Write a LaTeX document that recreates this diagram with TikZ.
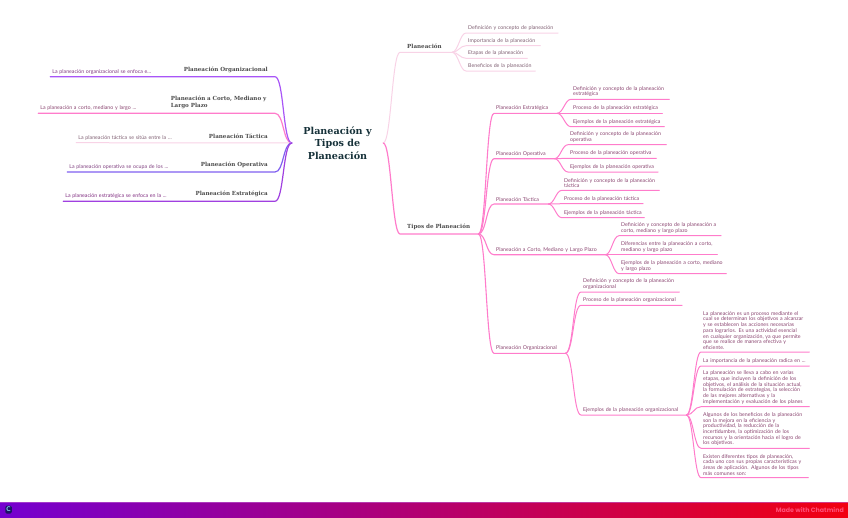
\documentclass[tikz,border=0pt]{standalone}
\usepackage{fontspec}
\setmainfont{Lato}
\newfontfamily\headfont{DejaVu Serif}
\newfontfamily\brandfont{Poppins}
\usepackage{tikz}
\usetikzlibrary{positioning,calc}

\definecolor{lineLight}{HTML}{F8D3E6}
\definecolor{linePink}{HTML}{FF7CCB}
\definecolor{linePurple}{HTML}{A855F7}
\definecolor{lineViolet}{HTML}{8060F0}
\definecolor{lineGrape}{HTML}{A040E0}
\definecolor{txtRose}{HTML}{8A4570}
\definecolor{txtDust}{HTML}{7F5F72}
\definecolor{barLeft}{HTML}{7400D0}
\definecolor{barMid}{HTML}{B80078}
\definecolor{barRight}{HTML}{F20010}
\definecolor{barTop}{HTML}{C060D0}
\definecolor{brandPink}{HTML}{FF4F78}
\definecolor{hubInk}{HTML}{17323A}
\definecolor{logoInk}{HTML}{1B1464}

\tikzset{
  hub/.style={font=\headfont\bfseries\fontsize{9.6}{12.4}\selectfont, text=hubInk, align=center, minimum width=91pt, inner sep=0pt},
  headR/.style={font=\headfont\bfseries\fontsize{5.6}{7.4}\selectfont, text=black!70, anchor=south west, text width=#1-14, align=left, inner xsep=7pt, inner ysep=4pt},
  headL/.style={font=\headfont\bfseries\fontsize{5.6}{7.4}\selectfont, text=black!70, anchor=south east, text width=#1-14, align=right, inner xsep=7pt, inner ysep=4pt},
  leaf/.style={font=\fontsize{5.25}{5.7}\selectfont, text=txtRose, anchor=south west, text width=#1-4, align=left, inner xsep=2pt, inner ysep=2.3pt},
  leafL/.style={font=\fontsize{5.25}{5.7}\selectfont, anchor=south east, text width=#1-4, align=left, inner xsep=2pt, inner ysep=2.3pt},
  wire/.style={line width=#1, line cap=round},
  wire/.default=1pt,
  linkR/.style={out=0, in=180, out distance=#1, in distance=#1},
  linkR/.default=6pt,
  linkL/.style={out=180, in=0, out distance=#1, in distance=#1},
  linkL/.default=6pt
}

\begin{document}
\begin{tikzpicture}[x=1pt, y=-1pt]
\useasboundingbox (0,0) rectangle (848,517);

% Footer bar
\shade [left color=barLeft, middle color=barMid, right color=barRight] (0,502) rectangle (848,517);
\fill [barTop, opacity=0.6] (0,501.6) rectangle (848,502.6);
\node (logo) at (8.5,509.5) [fill=logoInk, rounded corners=1.5pt, minimum width=6.5pt, minimum height=8pt, inner sep=0pt, text=cyan!45!white, font=\bfseries\fontsize{6.5}{7}\selectfont] {C};
\node (brand) at (844,509.5) [anchor=east, inner sep=0pt, text=brandPink, font=\brandfont\bfseries\fontsize{6.3}{7}\selectfont] {Made with Chatmind};

% Centre
\node (main) at (337.5,143) [hub] {Planeación y\\Tipos de\\Planeación};

% Left side
\node (hOrg) at (275,76.7) [headL=103] {Planeación Organizacional};
\node (lOrg) at (hOrg.south west) [leafL=121, text=violet!55!gray, anchor=south east] {La planeación organizacional se enfoca e...};
\node (hCor) at (275,113.3) [headL=111, align=left] {\mbox{Planeación a Corto, Mediano y}\\Largo Plazo};
\node (lCor) at (hCor.south west) [leafL=125, text=txtRose, anchor=south east] {La planeación a corto, mediano y largo ...};
\node (hTac) at (275,142.7) [headL=86] {Planeación Táctica};
\node (lTac) at (hTac.south west) [leafL=112, text=txtDust, anchor=south east] {La planeación táctica se sitúa entre la ...};
\node (hOpe) at (275,172) [headL=88] {Planeación Operativa};
\node (lOpe) at (hOpe.south west) [leafL=119, text=violet!50!gray, anchor=south east] {La planeación operativa se ocupa de los ...};
\node (hEst) at (275,201.3) [headL=92] {Planeación Estratégica};
\node (lEst) at (hEst.south west) [leafL=119, text=violet!65!gray, anchor=south east] {La planeación estratégica se enfoca en la ...};

\draw [wire=1.2pt, linePink] (main.west) to[linkL=9pt] (hCor.south east) -- (lCor.south west);
\draw [wire=1.2pt, linePurple] (main.west) to[linkL=9pt] (hOrg.south east) -- (lOrg.south west);
\draw [wire=1pt, lineLight] (main.west) -- (lTac.south west);
\draw [wire=1.2pt, lineViolet] (main.west) to[linkL=9pt] (hOpe.south east) -- (lOpe.south west);
\draw [wire=1.2pt, lineGrape] (main.west) to[linkL=9pt] (hEst.south east) -- (lEst.south west);

% Right side: Planeacion
\node (plan) at (400,52.3) [headR=51.7] {Planeación};
\node (plan1) at (466,33) [leaf=91.7, text=txtDust] {Definición y concepto de planeación};
\node (plan2) at (466,45.7) [leaf=74, text=txtDust] {Importancia de la planeación};
\node (plan3) at (466,58.3) [leaf=61, text=txtDust] {Etapas de la planeación};
\node (plan4) at (466,71) [leaf=69, text=txtDust] {Beneficios de la planeación};

\draw [wire=1pt, lineLight] (main.east) to[linkR=8pt] (plan.south west) -- (plan.south east);
\foreach \n in {plan1,plan2,plan3,plan4}
  \draw [wire, lineLight] (plan.south east) to[linkR] (\n.south west) -- (\n.south east);

% Right side: Tipos
\node (tipos) at (400,234) [headR=78] {\mbox{Tipos de Planeación}};
\node (sEst) at (494,113.3) [leaf=62.7] {Planeación Estratégica};
\node (sOpe) at (494,158.7) [leaf=60] {Planeación Operativa};
\node (sTac) at (494,204) [leaf=54] {Planeación Táctica};
\node (sCor) at (494,254.7) [leaf=111] {Planeación a Corto, Mediano y Largo Plazo};
\node (sOrg) at (494,353.3) [leaf=71] {Planeación Organizacional};

\draw [wire=1.2pt, linePink] (main.east) to[linkR=8pt] (tipos.south west) -- (tipos.south east);
\foreach \n in {sEst,sOpe,sTac,sCor,sOrg}
  \draw [wire=1.1pt, linePink] (tipos.south east) to[linkR=8pt] (\n.south west) -- (\n.south east);

% Estrategica
\node (est1) at (571,99.3) [leaf=98] {Definición y concepto de la planeación\\estratégica};
\node (est2) at (571,113.3) [leaf=91] {Proceso de la planeación estratégica};
\node (est3) at (571,126.7) [leaf=93] {Ejemplos de la planeación estratégica};
\foreach \n in {est1,est2,est3}
  \draw [wire, linePink] (sEst.south east) to[linkR] (\n.south west) -- (\n.south east);

% Operativa
\node (ope1) at (568,144.7) [leaf=98] {Definición y concepto de la planeación\\operativa};
\node (ope2) at (568,158.3) [leaf=88] {Proceso de la planeación operativa};
\node (ope3) at (568,172) [leaf=89.7] {Ejemplos de la planeación operativa};
\foreach \n in {ope1,ope2,ope3}
  \draw [wire, linePink] (sOpe.south east) to[linkR] (\n.south west) -- (\n.south east);

% Tactica
\node (tac1) at (562,190.3) [leaf=97] {Definición y concepto de la planeación\\táctica};
\node (tac2) at (562,203.7) [leaf=80.7] {Proceso de la planeación táctica};
\node (tac3) at (562,217.7) [leaf=82] {Ejemplos de la planeación táctica};
\foreach \n in {tac1,tac2,tac3}
  \draw [wire, linePink] (sTac.south east) to[linkR] (\n.south west) -- (\n.south east);

% Corto, mediano y largo plazo
\node (cor1) at (619,235.7) [leaf=101.7] {Definición y concepto de la planeación a\\corto, mediano y largo plazo};
\node (cor2) at (619,254.7) [leaf=98] {Diferencias entre la planeación a corto,\\mediano y largo plazo};
\node (cor3) at (619,273.7) [leaf=107] {Ejemplos de la planeación a corto, mediano\\y largo plazo};
\foreach \n in {cor1,cor2,cor3}
  \draw [wire, linePink] (sCor.south east) to[linkR] (\n.south west) -- (\n.south east);

% Organizacional
\node (org1) at (581,292) [leaf=98] {Definición y concepto de la planeación\\organizacional};
\node (org2) at (581,305.3) [leaf=100.7] {Proceso de la planeación organizacional};
\node (org3) at (581,415) [leaf=105] {Ejemplos de la planeación organizacional};
\foreach \n in {org1,org2,org3}
  \draw [wire, linePink] (sOrg.south east) to[linkR=8pt] (\n.south west) -- (\n.south east);

% Ejemplos organizacional
\node (ej1) at (701,352) [leaf=108] {La planeación es un proceso mediante el\\cual se determinan los objetivos a alcanzar\\y se establecen las acciones necesarias\\para lograrlos. Es una actividad esencial\\en cualquier organización, ya que permite\\que se realice de manera efectiva y\\eficiente.};
\node (ej2) at (701,366) [leaf=108] {La importancia de la planeación radica en ...};
\node (ej3) at (701,406.7) [leaf=108] {La planeación se lleva a cabo en varias\\etapas, que incluyen la definición de los\\objetivos, el análisis de la situación actual,\\la formulación de estrategias, la selección\\de las mejores alternativas y la\\implementación y evaluación de los planes};
\node (ej4) at (701,448.3) [leaf=108] {Algunos de los beneficios de la planeación\\son la mejora en la eficiencia y\\productividad, la reducción de la\\incertidumbre, la optimización de los\\recursos y la orientación hacia el logro de\\los objetivos.};
\node (ej5) at (701,477.7) [leaf=107] {Existen diferentes tipos de planeación,\\cada uno con sus propias características y\\áreas de aplicación. Algunos de los tipos\\más comunes son:};
\foreach \n in {ej1,ej2,ej3,ej4,ej5}
  \draw [wire, linePink] (org3.south east) to[linkR=7pt] (\n.south west) -- (\n.south east);

\end{tikzpicture}
\end{document}
